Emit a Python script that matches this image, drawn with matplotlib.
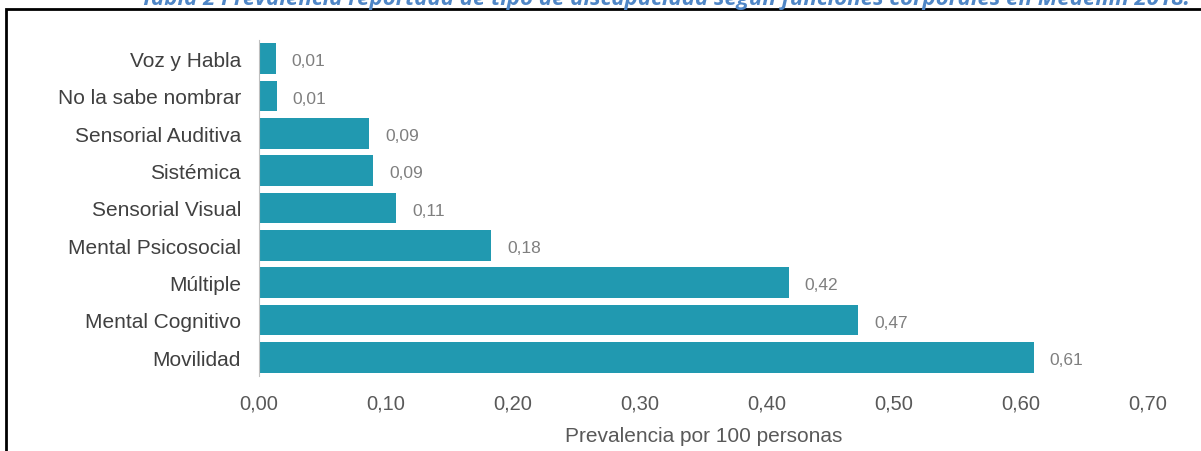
import matplotlib.pyplot as plt
from matplotlib.patches import Rectangle

categories = ["Voz y Habla", "No la sabe nombrar", "Sensorial Auditiva", "Sistémica",
              "Sensorial Visual", "Mental Psicosocial", "Múltiple", "Mental Cognitivo", "Movilidad"]
values = [0.013, 0.014, 0.087, 0.090, 0.108, 0.183, 0.417, 0.472, 0.610]
xticks = [0.0, 0.1, 0.2, 0.3, 0.4, 0.5, 0.6, 0.7]
title = "Tabla 2 Prevalencia reportada de tipo de discapacidad según funciones corporales en Medellín 2018."

plt.rcParams['font.family'] = ['Liberation Sans', 'DejaVu Sans']

fig = plt.figure(figsize=(12.01, 4.52), dpi=100)
ax = fig.add_axes([259 / 1201, 1 - 377 / 452, 889 / 1201, 336 / 452])

ypos = list(range(len(categories)))
ax.barh(ypos, values, height=0.82, color='#2199b0')
for y, v in zip(ypos, values):
    ax.annotate(f"{v:.2f}".replace('.', ','), (v, y), xytext=(11.5, -1.5),
                textcoords='offset points', va='center', ha='left',
                fontsize=12.5, color='#7f7f7f')

ax.set_ylim(len(categories) - 0.5, -0.5)
ax.set_xlim(0, 0.7)
ax.set_yticks(ypos)
ax.set_yticklabels(categories, fontsize=15, color='#404040')
ax.set_xticks(xticks)
ax.set_xticklabels([f"{t:.2f}".replace('.', ',') for t in xticks], fontsize=14.5, color='#595959')
ax.tick_params(axis='both', length=0)
ax.tick_params(axis='y', pad=13)
ax.tick_params(axis='x', pad=12.5)
ax.set_xlabel("Prevalencia por 100 personas", fontsize=15, color='#595959', labelpad=10)

for s in ['top', 'right', 'bottom']:
    ax.spines[s].set_visible(False)
ax.spines['left'].set_color('#bfbfbf')

# frame around the chart
fig.patches.append(Rectangle((6 / 1201, -0.05), 1.1, 1 - 10 / 452 + 0.05,
                             transform=fig.transFigure, fill=False,
                             edgecolor='black', linewidth=2))

# title cut off at the top of the page
fig.text(665 / 1201, 1 - 5 / 452, title, ha='center', va='baseline',
         fontsize=16, fontweight='bold', fontstyle='italic', color='#4f86c6',
         family=['Open Sans', 'DejaVu Sans'])

fig.savefig('out.png', dpi=100)
